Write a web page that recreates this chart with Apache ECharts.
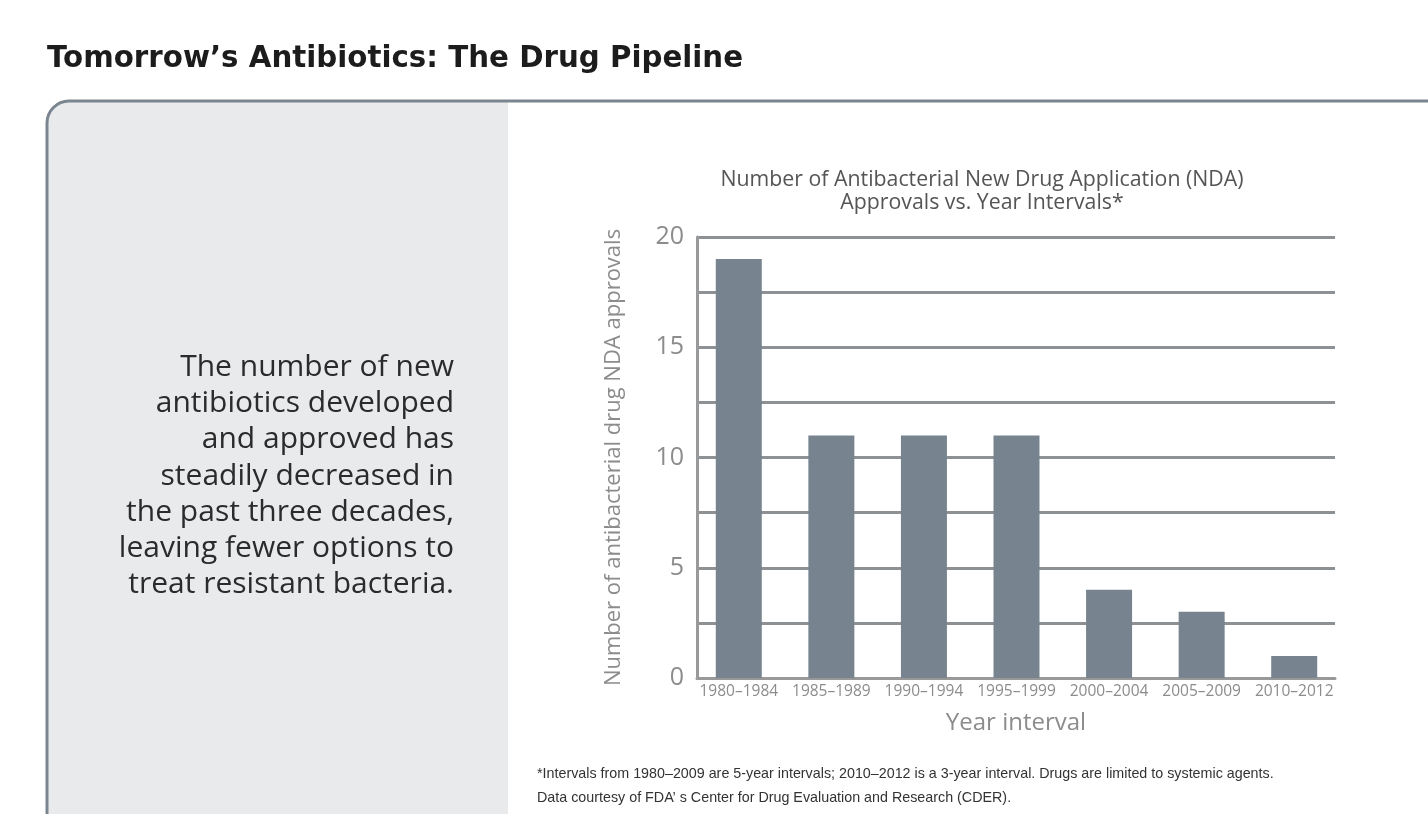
<!DOCTYPE html>
<html>
<head>
<meta charset="utf-8">
<script src="https://cdn.jsdelivr.net/npm/echarts@6/dist/echarts.min.js"></script>
<style>
html,body{margin:0;padding:0;background:#fff;}
#c{width:1428px;height:814px;}
</style>
</head>
<body>
<div id="c"></div>
<script>
const categories = ['1980–1984','1985–1989','1990–1994','1995–1999','2000–2004','2005–2009','2010–2012'];
const approvals = [19, 11, 11, 11, 4, 3, 1];
const yTickLabels = [0, 5, 10, 15, 20];

const chart = echarts.init(document.getElementById('c'), null, {renderer:'canvas'});
const grey = '#8c8c8c';
const paragraph = ['The number of new','antibiotics developed','and approved has','steadily decreased in','the past three decades,','leaving fewer options to','treat resistant bacteria.'];

chart.setOption({
  backgroundColor: '#ffffff',
  animation: false,
  title: {
    text: 'Number of Antibacterial New Drug Application (NDA)\nApprovals vs. Year Intervals*',
    left: 977, top: 163, textAlign: 'center',
    textStyle: {fontFamily: 'Open Sans', fontSize: 21.3, fontWeight: 'normal', color: '#555555', lineHeight: 23}
  },
  graphic: [
    {type:'rect', z:-10, shape:{x:47, y:101, width:461, height:760, r:[22,0,0,0]}, style:{fill:'#e9eaec'}},
    {type:'rect', z:-5, shape:{x:47, y:101, width:1500, height:800, r:[22,0,0,0]}, style:{fill:null, stroke:'#7b8590', lineWidth:3}},
    {type:'text', x:47, y:59, style:{text:'Tomorrow’s Antibiotics: The Drug Pipeline', verticalAlign:'middle', fontFamily:'DejaVu Sans', fontWeight:'bold', fontSize:29.3, fill:'#1c1c1c'}},
    {type:'text', x:454, y:349, style:{text:paragraph.join('\n'), align:'right', fontFamily:'Open Sans', fontSize:30, lineHeight:36.3, fill:'#2b2b2b'}},
    {type:'text', x:537, y:762, style:{text:'*Intervals from 1980–2009 are 5-year intervals; 2010–2012 is a 3-year interval. Drugs are limited to systemic agents.\nData courtesy of FDA’ s Center for Drug Evaluation and Research (CDER).', fontFamily:'Liberation Sans Narrow, Liberation Sans', fontSize:14.3, lineHeight:24, fill:'#333333'}}
  ],
  grid: [
    {left: 697, right: 93, top: 237, bottom: 136},
    {left: 692.5, right: 87.5, top: 237, bottom: 136}
  ],
  xAxis: [{
    gridIndex: 0, type: 'category', data: categories,
    name: 'Year interval', nameLocation: 'middle', nameGap: 33,
    nameTextStyle: {fontFamily:'Open Sans', fontSize:24, color: grey},
    axisTick: {show:false},
    axisLine: {show:true, lineStyle:{color:'#999999', width:3}},
    axisLabel: {show:false}
  }, {
    gridIndex: 1, type: 'category', data: categories,
    axisTick: {show:false},
    axisLine: {show:false},
    axisLabel: {fontFamily:'Open Sans', fontSize:15.5, color: grey, margin:5.5, interval:0}
  }],
  yAxis: [{
    gridIndex: 0, type: 'value', min: 0, max: 20, interval: 2.5,
    name: 'Number of antibacterial drug NDA approvals', nameLocation: 'middle', nameGap: 72,
    nameTextStyle: {fontFamily:'Open Sans', fontSize:22, color: grey},
    axisLine: {show:true, lineStyle:{color:'#999999', width:3}},
    axisTick: {show:false},
    axisLabel: {fontFamily:'Open Sans', fontSize:25, color: grey, margin:13,
      formatter: v => yTickLabels.indexOf(v) >= 0 ? String(v) : ''},
    splitLine: {show:true, lineStyle:{color:'#8e9194', width:3}}
  }, {
    gridIndex: 1, type: 'value', min: 0, max: 20, interval: 2.5, show: false
  }],
  series: [{
    type: 'bar', data: approvals, barWidth: 46, xAxisIndex: 1, yAxisIndex: 1,
    itemStyle: {color:'#77848f'}
  }]
});
</script>
</body>
</html>
